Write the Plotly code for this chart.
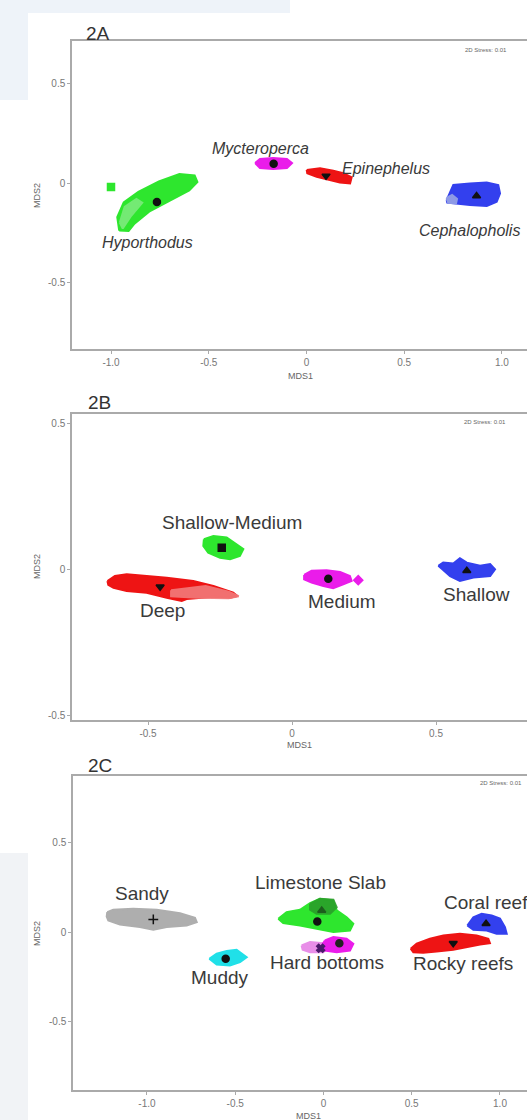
import plotly.graph_objects as go

W, H = 527, 1120
FONT = "Liberation Sans, Arial, sans-serif"

# ---------------- Panel 2A (genus) ----------------
HYPO_X = [-0.958, -0.968, -0.935, -0.860, -0.755, -0.650, -0.572, -0.558, -0.600, -0.700, -0.805, -0.880, -0.910]
HYPO_Y = [-0.240, -0.172, -0.098, -0.045, 0.008, 0.045, 0.038, 0.005, -0.038, -0.092, -0.145, -0.205, -0.242]
HYPO_LIGHT_X = [-0.955, -0.93, -0.87, -0.84, -0.90, -0.94]
HYPO_LIGHT_Y = [-0.20, -0.12, -0.08, -0.10, -0.17, -0.23]
HYPO_OUT_X = [-1.0]
HYPO_OUT_Y = [-0.02]
MYCT_X = [-0.263, -0.238, -0.171, -0.100, -0.074, -0.100, -0.171, -0.238]
MYCT_Y = [0.101, 0.121, 0.126, 0.121, 0.101, 0.076, 0.071, 0.076]
EPIN_X = [0.001, 0.069, 0.137, 0.188, 0.231, 0.223, 0.171, 0.120, 0.052, 0.004]
EPIN_Y = [0.066, 0.074, 0.062, 0.049, 0.029, -0.002, 0.002, 0.015, 0.032, 0.049]
CEPH_X = [0.717, 0.751, 0.836, 0.922, 0.981, 0.990, 0.973, 0.922, 0.836, 0.768, 0.720]
CEPH_Y = [-0.086, -0.010, -0.002, 0.002, -0.010, -0.052, -0.094, -0.116, -0.111, -0.103, -0.099]
CEPH_LIGHT_X = [0.717, 0.745, 0.770, 0.765, 0.725]
CEPH_LIGHT_Y = [-0.075, -0.060, -0.080, -0.103, -0.100]
A_CENT_X = [-0.765, -0.168, 0.100, 0.870]
A_CENT_Y = [-0.096, 0.097, 0.036, -0.065]
A_CENT_SYM = ["circle", "circle", "triangle-down", "triangle-up"]
A_LABELS = ["Hyporthodus", "Mycteroperca", "Epinephelus", "Cephalopholis"]
A_LAB_X = [-0.811, -0.233, 0.407, 0.836]
A_LAB_Y = [-0.300, 0.172, 0.075, -0.242]
A_XTICKS = [-1.0, -0.5, 0.0, 0.5, 1.0]
A_XTEXT = ["-1.0", "-0.5", "0", "0.5", "1.0"]
A_YTICKS = [-0.5, 0.0, 0.5]
A_YTEXT = ["-0.5", "0", "0.5"]

# ---------------- Panel 2B (depth) ----------------
DEEP_X = [-0.641, -0.615, -0.574, -0.505, -0.435, -0.343, -0.273, -0.204, -0.190, -0.215, -0.273, -0.366, -0.383, -0.435, -0.505, -0.574, -0.620, -0.638]
DEEP_Y = [-0.038, -0.021, -0.015, -0.021, -0.027, -0.038, -0.055, -0.078, -0.089, -0.095, -0.092, -0.100, -0.106, -0.095, -0.078, -0.072, -0.061, -0.051]
DEEP_TAIL_X = [-0.42, -0.30, -0.22, -0.185, -0.22, -0.33, -0.42]
DEEP_TAIL_Y = [-0.070, -0.055, -0.075, -0.090, -0.097, -0.095, -0.090]
SHME_X = [-0.306, -0.273, -0.227, -0.192, -0.169, -0.181, -0.215, -0.250, -0.291, -0.308]
SHME_Y = [0.105, 0.116, 0.111, 0.088, 0.071, 0.048, 0.037, 0.042, 0.059, 0.082]
MEDI_X = [0.042, 0.068, 0.120, 0.167, 0.201, 0.207, 0.178, 0.143, 0.109, 0.068, 0.042]
MEDI_Y = [-0.017, -0.003, -0.001, -0.007, -0.021, -0.038, -0.049, -0.063, -0.055, -0.043, -0.032]
MEDI_OUT_X = [0.230]
MEDI_OUT_Y = [-0.035]
SHAL_X = [0.508, 0.525, 0.560, 0.583, 0.607, 0.653, 0.688, 0.705, 0.688, 0.630, 0.583, 0.549, 0.525]
SHAL_Y = [0.014, 0.025, 0.022, 0.040, 0.025, 0.014, 0.020, 0.002, -0.021, -0.026, -0.038, -0.021, 0.000]
B_CENT_X = [-0.458, -0.244, 0.126, 0.607]
B_CENT_Y = [-0.058, 0.076, -0.030, -0.003]
B_CENT_SYM = ["triangle-down", "square", "circle", "triangle-up"]
B_LABELS = ["Deep", "Shallow-Medium", "Medium", "Shallow"]
B_LAB_X = [-0.450, -0.209, 0.173, 0.639]
B_LAB_Y = [-0.138, 0.162, -0.108, -0.083]
B_XTICKS = [-0.5, 0.0, 0.5]
B_XTEXT = ["-0.5", "0", "0.5"]
B_YTICKS = [-0.5, 0.0, 0.5]
B_YTEXT = ["-0.5", "0", "0.5"]

# ---------------- Panel 2C (habitat) ----------------
SAND_X = [-1.225, -1.191, -1.078, -0.945, -0.813, -0.728, -0.718, -0.775, -0.888, -0.964, -1.040, -1.153, -1.219, -1.228]
SAND_Y = [0.113, 0.127, 0.132, 0.127, 0.108, 0.082, 0.058, 0.039, 0.030, 0.015, 0.030, 0.045, 0.067, 0.089]
MUDD_X = [-0.647, -0.605, -0.548, -0.492, -0.435, -0.473, -0.530, -0.605]
MUDD_Y = [-0.147, -0.119, -0.104, -0.097, -0.138, -0.166, -0.184, -0.179]
LIME_X = [-0.256, -0.209, -0.133, -0.076, -0.020, 0.056, 0.075, 0.131, 0.169, 0.150, 0.056, -0.039, -0.133, -0.228]
LIME_Y = [0.077, 0.113, 0.127, 0.164, 0.188, 0.179, 0.123, 0.085, 0.049, 0.011, 0.002, 0.021, 0.039, 0.052]
LIME_DARK_X = [-0.076, -0.020, 0.056, 0.075, 0.037, -0.039, -0.076]
LIME_DARK_Y = [0.160, 0.188, 0.183, 0.141, 0.104, 0.104, 0.127]
HARD_X = [0.008, 0.056, 0.131, 0.169, 0.150, 0.075, 0.008, -0.010]
HARD_Y = [-0.045, -0.026, -0.035, -0.063, -0.101, -0.110, -0.101, -0.073]
HARD_LIGHT_X = [-0.124, -0.076, -0.001, 0.027, -0.001, -0.076, -0.118]
HARD_LIGHT_Y = [-0.073, -0.054, -0.060, -0.082, -0.110, -0.110, -0.097]
ROCK_X = [0.494, 0.528, 0.603, 0.679, 0.773, 0.868, 0.934, 0.943, 0.887, 0.811, 0.735, 0.641, 0.565, 0.509]
ROCK_Y = [-0.091, -0.063, -0.035, -0.017, -0.007, -0.017, -0.035, -0.060, -0.067, -0.082, -0.097, -0.106, -0.113, -0.110]
CORA_X = [0.815, 0.849, 0.896, 0.953, 1.000, 1.028, 1.038, 0.981, 0.925, 0.849]
CORA_Y = [0.039, 0.085, 0.104, 0.095, 0.077, 0.030, -0.007, -0.007, 0.011, 0.015]
C_CENT_X = [-0.964, -0.554, -0.035, -0.010, 0.090, -0.016, 0.735, 0.921]
C_CENT_Y = [0.073, -0.147, 0.061, 0.123, -0.060, -0.088, -0.060, 0.049]
C_CENT_SYM = ["cross-thin", "circle", "circle", "triangle-up", "circle", "x", "triangle-down", "triangle-up"]
C_CENT_COL = ["#111111", "#111111", "#111111", "#1d5e1d", "#222222", "#4a1a6a", "#111111", "#111111"]
C_LABELS = ["Sandy", "Limestone Slab", "Muddy", "Hard bottoms", "Rocky reefs"]
C_LAB_X = [-1.030, -0.016, -0.586, 0.018, 0.789]
C_LAB_Y = [0.216, 0.281, -0.250, -0.166, -0.175]
C_CORAL_LABEL = "Coral reefs"
C_CORAL_X = [0.670]
C_CORAL_Y = [0.169]
C_XTICKS = [-1.0, -0.5, 0.0, 0.5, 1.0]
C_XTEXT = ["-1.0", "-0.5", "0", "0.5", "1.0"]
C_YTICKS = [-0.5, 0.0, 0.5]
C_YTEXT = ["-0.5", "0", "0.5"]

STRESS_TEXT = "2D Stress: 0.01"

GREEN = "#2ee62e"
GREEN_LIGHT = "#74ea74"
GREEN_DARK = "#2a9a2a"
RED = "#ee1414"
RED_LIGHT = "#f27a7a"
MAGENTA = "#ea1cea"
ORCHID = "#e88ee8"
BLUE = "#3340ee"
BLUE_LIGHT = "#8e9ae6"
CYAN = "#20e0e8"
GREY = "#a0a0a0"

fig = go.Figure()


def poly(xs, ys, color, ax, opacity=1.0):
    fig.add_trace(go.Scatter(
        x=xs + xs[:1], y=ys + ys[:1], mode="lines", fill="toself",
        fillcolor=color, line=dict(color=color, width=2), opacity=opacity,
        xaxis="x" + ax, yaxis="y" + ax, hoverinfo="skip", showlegend=False))


def pts(xs, ys, color, symbol, size, ax):
    fig.add_trace(go.Scatter(
        x=xs, y=ys, mode="markers",
        marker=dict(color=color, symbol=symbol, size=size,
                    line=dict(color=color, width=1.5)),
        xaxis="x" + ax, yaxis="y" + ax, showlegend=False))


# Panel A
poly(HYPO_X, HYPO_Y, GREEN, "")
poly(HYPO_LIGHT_X, HYPO_LIGHT_Y, GREEN_LIGHT, "")
pts(HYPO_OUT_X, HYPO_OUT_Y, GREEN, "square", 7, "")
poly(MYCT_X, MYCT_Y, MAGENTA, "")
poly(EPIN_X, EPIN_Y, RED, "")
poly(CEPH_X, CEPH_Y, BLUE, "")
poly(CEPH_LIGHT_X, CEPH_LIGHT_Y, BLUE_LIGHT, "")
for i in range(len(A_CENT_X)):
    pts([A_CENT_X[i]], [A_CENT_Y[i]], "#111111", A_CENT_SYM[i], 7, "")

# Panel B
poly(DEEP_X, DEEP_Y, RED, "2")
poly(DEEP_TAIL_X, DEEP_TAIL_Y, RED_LIGHT, "2", 0.9)
poly(SHME_X, SHME_Y, GREEN, "2")
poly(MEDI_X, MEDI_Y, MAGENTA, "2")
pts(MEDI_OUT_X, MEDI_OUT_Y, MAGENTA, "diamond", 7, "2")
poly(SHAL_X, SHAL_Y, BLUE, "2")
for i in range(len(B_CENT_X)):
    pts([B_CENT_X[i]], [B_CENT_Y[i]], "#111111", B_CENT_SYM[i], 7, "2")

# Panel C
poly(SAND_X, SAND_Y, GREY, "3", 0.85)
poly(MUDD_X, MUDD_Y, CYAN, "3")
poly(LIME_X, LIME_Y, GREEN, "3")
poly(LIME_DARK_X, LIME_DARK_Y, GREEN_DARK, "3", 0.85)
poly(HARD_LIGHT_X, HARD_LIGHT_Y, ORCHID, "3")
poly(HARD_X, HARD_Y, MAGENTA, "3")
poly(ROCK_X, ROCK_Y, RED, "3")
poly(CORA_X, CORA_Y, BLUE, "3")
for i in range(len(C_CENT_X)):
    pts([C_CENT_X[i]], [C_CENT_Y[i]], C_CENT_COL[i], C_CENT_SYM[i], 7, "3")

# labels inside the plots
annotations = []
TXT = "#3a3a3a"
for t, x, y in zip(A_LABELS, A_LAB_X, A_LAB_Y):
    annotations.append(dict(x=x, y=y, xref="x", yref="y", text="<i>" + t + "</i>",
                            xanchor="center", yanchor="middle",
                            showarrow=False, font=dict(size=16, color=TXT, family=FONT)))
for t, x, y in zip(B_LABELS, B_LAB_X, B_LAB_Y):
    annotations.append(dict(x=x, y=y, xref="x2", yref="y2", text=t,
                            xanchor="center", yanchor="middle",
                            showarrow=False, font=dict(size=19, color=TXT, family=FONT)))
for t, x, y in zip(C_LABELS, C_LAB_X, C_LAB_Y):
    annotations.append(dict(x=x, y=y, xref="x3", yref="y3", text=t,
                            xanchor="center", yanchor="middle",
                            showarrow=False, font=dict(size=19, color=TXT, family=FONT)))
annotations.append(dict(x=C_CORAL_X[0], y=C_CORAL_Y[0], xref="x3", yref="y3", text=C_CORAL_LABEL,
                        xanchor="left", yanchor="middle", showarrow=False,
                        font=dict(size=19, color=TXT, family=FONT)))


def px_x(p):
    return p / W


def px_y(p):
    return 1 - p / H


# panel titles, axis titles, stress text (pixel positions)
for t, cx, cy in [("2A", 98, 33), ("2B", 99, 402), ("2C", 100, 765)]:
    annotations.append(dict(x=px_x(cx), y=px_y(cy), xref="paper", yref="paper", text=t,
                            xanchor="center", yanchor="middle",
                            showarrow=False, font=dict(size=19, color="#333333", family=FONT)))
for cx, cy in [(300, 376), (299, 745), (308, 1116)]:
    annotations.append(dict(x=px_x(cx), y=px_y(cy), xref="paper", yref="paper", text="MDS1",
                            xanchor="center", yanchor="middle",
                            showarrow=False, font=dict(size=9, color="#666666", family=FONT)))
for cx, cy in [(37, 196), (37, 567), (37, 934)]:
    annotations.append(dict(x=px_x(cx), y=px_y(cy), xref="paper", yref="paper", text="MDS2",
                            xanchor="center", yanchor="middle",
                            textangle=-90, showarrow=False, font=dict(size=9, color="#666666", family=FONT)))
for lx, cy in [(463, 50), (462, 422), (478, 783)]:
    annotations.append(dict(x=px_x(lx), y=px_y(cy), xref="paper", yref="paper", text=STRESS_TEXT,
                            xanchor="left", yanchor="middle",
                            showarrow=False, font=dict(size=6, color="#666666", family=FONT)))

AX_COL = "#aaaaaa"


def xax(rng, tv, tt, dom, anchor):
    return dict(range=rng, domain=dom, anchor=anchor, tickvals=tv, ticktext=tt,
                showline=True, linecolor=AX_COL, linewidth=1.5, mirror=True,
                ticks="outside", ticklen=3, tickcolor=AX_COL, showgrid=False, zeroline=False,
                tickfont=dict(size=10, color="#777777", family=FONT))


def yax(rng, tv, tt, dom, anchor):
    return dict(range=rng, domain=dom, anchor=anchor, tickvals=tv, ticktext=tt,
                showline=True, linecolor=AX_COL, linewidth=1.5, mirror=False,
                ticks="outside", ticklen=3, tickcolor=AX_COL, showgrid=False, zeroline=False,
                tickfont=dict(size=10, color="#777777", family=FONT))


XD = [72 / W, 1.0]
XD3 = [73 / W, 1.0]
shapes = [
    dict(type="rect", xref="paper", yref="paper", x0=0, x1=px_x(28), y0=px_y(100), y1=1,
         fillcolor="#eef3f9", line=dict(width=0), layer="below"),
    dict(type="rect", xref="paper", yref="paper", x0=0, x1=px_x(290), y0=px_y(13), y1=1,
         fillcolor="#eef3f9", line=dict(width=0), layer="below"),
    dict(type="rect", xref="paper", yref="paper", x0=0, x1=px_x(28), y0=0, y1=px_y(853),
         fillcolor="#f1f3f6", line=dict(width=0), layer="below"),
]

fig.update_layout(
    width=W, height=H, autosize=False,
    margin=dict(l=0, r=0, t=0, b=0),
    paper_bgcolor="white", plot_bgcolor="white",
    showlegend=False,
    font=dict(family=FONT),
    xaxis=xax([-1.1995, 1.128], A_XTICKS, A_XTEXT, XD, "y"),
    yaxis=yax([-0.838, 0.717], A_YTICKS, A_YTEXT, [px_y(349), px_y(41)], "x"),
    xaxis2=xax([-0.764, 0.816], B_XTICKS, B_XTEXT, XD, "y2"),
    yaxis2=yax([-0.514, 0.534], B_YTICKS, B_YTEXT, [px_y(720), px_y(414)], "x2"),
    xaxis3=xax([-1.419, 1.153], C_XTICKS, C_XTEXT, XD3, "y3"),
    yaxis3=yax([-0.88, 0.874], C_YTICKS, C_YTEXT, [px_y(1090), px_y(776)], "x3"),
    annotations=annotations,
    shapes=shapes,
)

fig.write_html("out.html", config={"displayModeBar": False},
               post_script="document.body.style.margin='0';")
